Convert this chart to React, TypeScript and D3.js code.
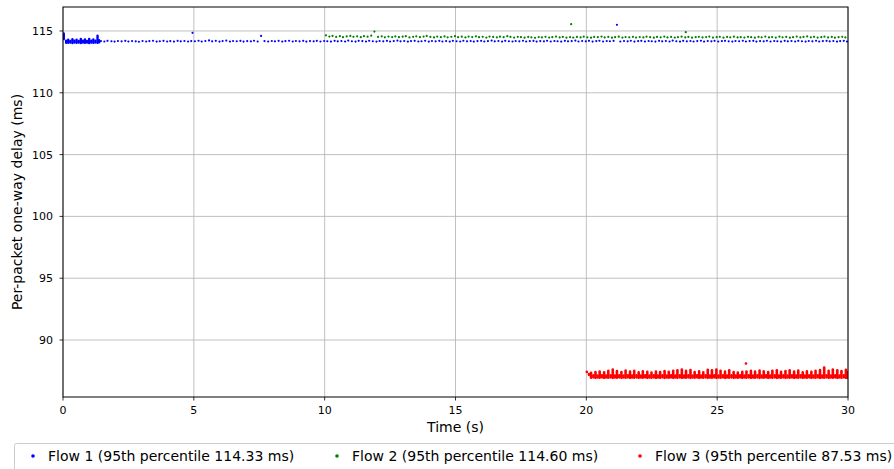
import React from "react";
import * as d3 from "d3";

const W = 894;
const H = 469;

const xTicks = [0, 5, 10, 15, 20, 25, 30];
const yTicks = [90, 95, 100, 105, 110, 115];
const seriesNames = [
  "Flow 1 (95th percentile 114.33 ms)",
  "Flow 2 (95th percentile 114.60 ms)",
  "Flow 3 (95th percentile 87.53 ms)",
];
const seriesColors = ["#0000ff", "#008000", "#ff0000"];

// Flow 1: dense burst at start (columns of packets)
const flow1BurstT = [0.03, 0.12, 0.2, 0.28, 0.36, 0.44, 0.52, 0.6, 0.68, 0.76, 0.84, 0.92, 1.0, 1.08, 1.16, 1.24, 1.32, 1.38];
const flow1BurstLo = [114.35, 114.05, 114.04, 114.06, 114.03, 114.06, 114.04, 114.06, 114.03, 114.06, 114.04, 114.06, 114.03, 114.06, 114.04, 114.06, 114.04, 114.08];
const flow1BurstHi = [114.8, 114.22, 114.3, 114.2, 114.34, 114.22, 114.3, 114.2, 114.36, 114.22, 114.32, 114.2, 114.36, 114.22, 114.32, 114.22, 114.62, 114.25];

const flow1T = [
  1.45, 1.58, 1.7, 1.85, 1.97, 2.1, 2.24, 2.38, 2.5, 2.64,
  2.78, 2.9, 3.04, 3.18, 3.3, 3.44, 3.58, 3.7, 3.84, 3.98,
  4.1, 4.24, 4.38, 4.5, 4.64, 4.78, 4.9, 4.95, 5.04, 5.18,
  5.3, 5.44, 5.58, 5.7, 5.84, 5.98, 6.1, 6.24, 6.38, 6.5,
  6.64, 6.78, 6.9, 7.04, 7.18, 7.3, 7.44, 7.57, 7.7, 7.84,
  7.98, 8.1, 8.24, 8.38, 8.5, 8.64, 8.78, 8.9, 9.04, 9.18,
  9.3, 9.44, 9.58, 9.7, 9.84, 9.98, 10.1, 10.24, 10.38, 10.5,
  10.64, 10.78, 10.9, 11.04, 11.18, 11.3, 11.44, 11.58, 11.7, 11.84,
  11.98, 12.1, 12.24, 12.38, 12.5, 12.64, 12.78, 12.9, 13.04, 13.18,
  13.3, 13.44, 13.58, 13.7, 13.84, 13.98, 14.1, 14.24, 14.38, 14.5,
  14.64, 14.78, 14.9, 15.04, 15.18, 15.3, 15.44, 15.58, 15.7, 15.84,
  15.98, 16.1, 16.24, 16.38, 16.5, 16.64, 16.78, 16.9, 17.04, 17.18,
  17.3, 17.44, 17.58, 17.7, 17.84, 17.98, 18.1, 18.24, 18.38, 18.5,
  18.64, 18.78, 18.9, 19.04, 19.18, 19.3, 19.44, 19.58, 19.7, 19.84,
  19.98, 20.1, 20.24, 20.38, 20.5, 20.64, 20.78, 20.9, 21.04, 21.17,
  21.3, 21.44, 21.58, 21.7, 21.84, 21.98, 22.1, 22.24, 22.38, 22.5,
  22.64, 22.78, 22.9, 23.04, 23.18, 23.3, 23.44, 23.58, 23.7, 23.84,
  23.98, 24.1, 24.24, 24.38, 24.5, 24.64, 24.78, 24.9, 25.04, 25.18,
  25.3, 25.44, 25.58, 25.7, 25.84, 25.98, 26.1, 26.24, 26.38, 26.5,
  26.64, 26.78, 26.9, 27.04, 27.18, 27.3, 27.44, 27.58, 27.7, 27.84,
  27.98, 28.1, 28.24, 28.38, 28.5, 28.64, 28.78, 28.9, 29.04, 29.18,
  29.3, 29.44, 29.58, 29.7, 29.84, 29.96,
];
const flow1V = [
  114.18, 114.15, 114.2, 114.17, 114.14, 114.19, 114.16, 114.2, 114.15, 114.18,
  114.16, 114.13, 114.19, 114.15, 114.18, 114.21, 114.14, 114.17, 114.2, 114.15,
  114.18, 114.14, 114.2, 114.16, 114.19, 114.15, 114.18, 114.85, 114.17, 114.21,
  114.15, 114.19, 114.24, 114.16, 114.2, 114.14, 114.18, 114.22, 114.15, 114.19,
  114.17, 114.2, 114.14, 114.18, 114.16, 114.21, 114.15, 114.6, 114.18, 114.15,
  114.19, 114.16, 114.2, 114.14, 114.18, 114.21, 114.15, 114.19, 114.16, 114.2,
  114.14, 114.18, 114.16, 114.2, 114.15, 114.19, 114.17, 114.14, 114.2, 114.16,
  114.19, 114.15, 114.22, 114.17, 114.14, 114.2, 114.18, 114.15, 114.21, 114.17,
  114.14, 114.19, 114.16, 114.2, 114.15, 114.18, 114.22, 114.16, 114.19, 114.14,
  114.18, 114.2, 114.15, 114.17, 114.21, 114.14, 114.19, 114.16, 114.2, 114.15,
  114.18, 114.14, 114.2, 114.17, 114.15, 114.21, 114.16, 114.19, 114.14, 114.18,
  114.2, 114.15, 114.18, 114.22, 114.16, 114.19, 114.14, 114.2, 114.17, 114.15,
  114.19, 114.16, 114.21, 114.15, 114.18, 114.2, 114.14, 114.18, 114.16, 114.21,
  114.15, 114.19, 114.17, 114.14, 114.2, 114.16, 114.18, 114.22, 114.15, 114.19,
  114.16, 114.2, 114.14, 114.18, 114.21, 114.15, 114.19, 114.17, 114.2, 115.5,
  114.15, 114.19, 114.16, 114.21, 114.14, 114.18, 114.2, 114.15, 114.19, 114.17,
  114.14, 114.2, 114.16, 114.19, 114.15, 114.22, 114.17, 114.14, 114.2, 114.16,
  114.19, 114.15, 114.18, 114.21, 114.14, 114.19, 114.16, 114.2, 114.15, 114.18,
  114.2, 114.16, 114.14, 114.19, 114.17, 114.21, 114.15, 114.18, 114.2, 114.14,
  114.18, 114.16, 114.21, 114.15, 114.19, 114.17, 114.14, 114.2, 114.16, 114.19,
  114.15, 114.2, 114.17, 114.14, 114.19, 114.16, 114.21, 114.15, 114.18, 114.2,
  114.16, 114.19, 114.14, 114.18, 114.2, 114.15,
];

const flow2T = [
  10.05, 10.18, 10.3, 10.44, 10.58, 10.7, 10.84, 10.98, 11.1, 11.24,
  11.38, 11.5, 11.64, 11.78, 11.9, 12.04, 12.18, 12.3, 12.44, 12.58,
  12.7, 12.84, 12.98, 13.1, 13.24, 13.38, 13.5, 13.64, 13.78, 13.9,
  14.04, 14.18, 14.3, 14.44, 14.58, 14.7, 14.84, 14.98, 15.1, 15.24,
  15.38, 15.5, 15.64, 15.78, 15.9, 16.04, 16.18, 16.3, 16.44, 16.58,
  16.7, 16.84, 16.98, 17.1, 17.24, 17.38, 17.5, 17.64, 17.78, 17.9,
  18.04, 18.18, 18.3, 18.44, 18.58, 18.7, 18.84, 18.98, 19.1, 19.24,
  19.38, 19.42, 19.5, 19.64, 19.78, 19.9, 20.04, 20.18, 20.3, 20.44,
  20.58, 20.7, 20.84, 20.98, 21.1, 21.24, 21.38, 21.5, 21.64, 21.78,
  21.9, 22.04, 22.18, 22.3, 22.44, 22.58, 22.7, 22.84, 22.98, 23.1,
  23.24, 23.38, 23.5, 23.64, 23.78, 23.8, 23.9, 24.04, 24.18, 24.3,
  24.44, 24.58, 24.7, 24.84, 24.98, 25.1, 25.24, 25.38, 25.5, 25.64,
  25.78, 25.9, 26.04, 26.18, 26.3, 26.44, 26.58, 26.7, 26.84, 26.98,
  27.1, 27.24, 27.38, 27.5, 27.64, 27.78, 27.9, 28.04, 28.18, 28.3,
  28.44, 28.58, 28.7, 28.84, 28.98, 29.1, 29.24, 29.38, 29.5, 29.64,
  29.78, 29.9,
];
const flow2V = [
  114.65, 114.55, 114.6, 114.52, 114.58, 114.5, 114.56, 114.6, 114.53, 114.57,
  114.5, 114.58, 114.54, 114.62, 114.95, 114.52, 114.57, 114.49, 114.55, 114.51,
  114.56, 114.5, 114.54, 114.58, 114.48, 114.53, 114.57, 114.5, 114.55, 114.6,
  114.52, 114.48, 114.55, 114.5, 114.56, 114.49, 114.53, 114.58, 114.5, 114.54,
  114.48, 114.55, 114.51, 114.57, 114.5, 114.53, 114.47, 114.55, 114.52, 114.49,
  114.54, 114.5, 114.58, 114.52, 114.47, 114.53, 114.5, 114.46, 114.52, 114.49,
  114.45, 114.51, 114.48, 114.53, 114.47, 114.5, 114.55, 114.48, 114.52, 114.46,
  114.5, 115.55, 114.47, 114.52, 114.48, 114.54, 114.49, 114.46, 114.52, 114.5,
  114.55, 114.48, 114.52, 114.46, 114.5, 114.54, 114.47, 114.51, 114.49, 114.53,
  114.47, 114.51, 114.48, 114.54, 114.5, 114.46, 114.52, 114.49, 114.55, 114.48,
  114.52, 114.47, 114.5, 114.54, 114.48, 114.9, 114.52, 114.46, 114.5, 114.53,
  114.48, 114.51, 114.55, 114.47, 114.5, 114.53, 114.46, 114.52, 114.49, 114.54,
  114.48, 114.5, 114.47, 114.53, 114.5, 114.46, 114.52, 114.49, 114.55, 114.48,
  114.51, 114.47, 114.54, 114.49, 114.52, 114.46, 114.5, 114.55, 114.48, 114.52,
  114.56, 114.49, 114.53, 114.47, 114.5, 114.54, 114.48, 114.52, 114.46, 114.5,
  114.53, 114.48,
];

// Flow 3: columns of packets (low / high delay at each instant)
const flow3T = [
  20.02, 20.1, 20.18, 20.27, 20.35, 20.43, 20.51, 20.6, 20.68, 20.76,
  20.84, 20.93, 21.01, 21.09, 21.17, 21.26, 21.34, 21.42, 21.5, 21.59,
  21.67, 21.75, 21.83, 21.92, 22.0, 22.08, 22.16, 22.25, 22.33, 22.41,
  22.49, 22.58, 22.66, 22.74, 22.82, 22.91, 22.99, 23.07, 23.15, 23.24,
  23.32, 23.4, 23.48, 23.57, 23.65, 23.73, 23.81, 23.9, 23.98, 24.06,
  24.14, 24.23, 24.31, 24.39, 24.47, 24.56, 24.64, 24.72, 24.8, 24.89,
  24.97, 25.05, 25.13, 25.22, 25.3, 25.38, 25.46, 25.55, 25.63, 25.71,
  25.79, 25.88, 25.96, 26.04, 26.1, 26.12, 26.21, 26.29, 26.37, 26.45,
  26.54, 26.62, 26.7, 26.78, 26.87, 26.95, 27.03, 27.11, 27.2, 27.28,
  27.36, 27.44, 27.53, 27.61, 27.69, 27.77, 27.86, 27.94, 28.02, 28.1,
  28.19, 28.27, 28.35, 28.43, 28.52, 28.6, 28.68, 28.76, 28.85, 28.93,
  29.01, 29.09, 29.18, 29.26, 29.34, 29.42, 29.51, 29.59, 29.67, 29.75,
  29.84, 29.92, 29.98,
];
const flow3Lo = [
  87.42, 87.18, 86.95, 86.98, 86.94, 86.97, 86.95, 86.98, 86.94, 86.97,
  86.95, 86.98, 86.94, 86.97, 86.95, 86.98, 86.94, 86.97, 86.95, 86.98,
  86.94, 86.97, 86.95, 86.98, 86.94, 86.97, 86.95, 86.98, 86.94, 86.97,
  86.95, 86.98, 86.94, 86.97, 86.95, 86.98, 86.94, 86.97, 86.95, 86.98,
  86.94, 86.97, 86.95, 86.98, 86.94, 86.97, 86.95, 86.98, 86.94, 86.97,
  86.95, 86.98, 86.94, 86.97, 86.95, 86.98, 86.94, 86.97, 86.95, 86.98,
  86.94, 86.97, 86.95, 86.98, 86.94, 86.97, 86.95, 86.98, 86.94, 86.97,
  86.95, 86.98, 86.94, 86.97, 88.1, 86.95, 86.98, 86.94, 86.97, 86.95,
  86.98, 86.94, 86.97, 86.95, 86.98, 86.94, 86.97, 86.95, 86.98, 86.94,
  86.97, 86.95, 86.98, 86.94, 86.97, 86.95, 86.98, 86.94, 86.97, 86.95,
  86.98, 86.94, 86.97, 86.95, 86.98, 86.94, 86.97, 86.95, 86.98, 86.94,
  86.97, 86.95, 86.98, 86.94, 86.97, 86.95, 86.98, 86.94, 86.97, 86.95,
  86.98, 86.94, 86.95,
];
const flow3Hi = [
  87.42, 87.25, 87.35, 87.14, 87.4, 87.12, 87.45, 87.14, 87.38, 87.12,
  87.5, 87.14, 87.62, 87.12, 87.48, 87.14, 87.4, 87.12, 87.52, 87.14,
  87.44, 87.12, 87.5, 87.14, 87.38, 87.12, 87.46, 87.14, 87.42, 87.12,
  87.36, 87.14, 87.44, 87.12, 87.4, 87.14, 87.48, 87.12, 87.42, 87.14,
  87.5, 87.12, 87.56, 87.14, 87.62, 87.12, 87.5, 87.14, 87.58, 87.12,
  87.4, 87.14, 87.46, 87.12, 87.38, 87.14, 87.6, 87.12, 87.55, 87.14,
  87.62, 87.12, 87.5, 87.14, 87.44, 87.12, 87.55, 87.14, 87.4, 87.12,
  87.36, 87.14, 87.42, 87.12, 88.1, 87.45, 87.14, 87.5, 87.12, 87.44,
  87.14, 87.52, 87.12, 87.46, 87.14, 87.4, 87.12, 87.5, 87.14, 87.55,
  87.12, 87.42, 87.14, 87.48, 87.12, 87.56, 87.14, 87.44, 87.12, 87.52,
  87.14, 87.38, 87.12, 87.46, 87.14, 87.42, 87.12, 87.5, 87.14, 87.58,
  87.12, 87.78, 87.14, 87.5, 87.12, 87.62, 87.14, 87.55, 87.12, 87.48,
  87.14, 87.6, 87.4,
];

const FONT = "'DejaVu Sans', sans-serif";

export default function App() {
  const left = 63, right = 848, top = 7, bottom = 397;
  const x = d3.scaleLinear().domain([0, 30]).range([left, right]);
  const y = d3.scaleLinear().domain([85.39, 116.94]).range([bottom, top]);

  const legendX = [33, 337, 640];

  return (
    <svg
      width={W}
      height={H}
      style={{ position: "absolute", left: 0, top: 0, background: "#fff" }}
      fontFamily={FONT}
    >
      <rect x={0} y={0} width={W} height={H} fill="#fff" />
      <defs>
        <clipPath id="plotClip">
          <rect x={left} y={top} width={right - left} height={bottom - top} />
        </clipPath>
      </defs>
      {/* grid */}
      <g stroke="#b0b0b0" strokeWidth={0.8}>
        {xTicks.map((t) => (
          <line key={"gx" + t} x1={x(t)} x2={x(t)} y1={top} y2={bottom} />
        ))}
        {yTicks.map((t) => (
          <line key={"gy" + t} x1={left} x2={right} y1={y(t)} y2={y(t)} />
        ))}
      </g>
      {/* data */}
      <g clipPath="url(#plotClip)">
        <g fill={seriesColors[0]}>
          {flow1T.map((t, i) => (
            <circle key={"f1" + i} cx={x(t)} cy={y(flow1V[i])} r={1.1} />
          ))}
        </g>
        <g stroke={seriesColors[0]} strokeWidth={2.4} strokeLinecap="round">
          {flow1BurstT.map((t, i) => (
            <line key={"b1" + i} x1={x(t)} x2={x(t)} y1={y(flow1BurstLo[i])} y2={y(flow1BurstHi[i])} />
          ))}
        </g>
        <g fill={seriesColors[1]}>
          {flow2T.map((t, i) => (
            <circle key={"f2" + i} cx={x(t)} cy={y(flow2V[i])} r={1.1} />
          ))}
        </g>
        <g stroke={seriesColors[2]} strokeWidth={2.6} strokeLinecap="round">
          {flow3T.map((t, i) => (
            <line key={"f3" + i} x1={x(t)} x2={x(t)} y1={y(flow3Lo[i])} y2={y(flow3Hi[i])} />
          ))}
        </g>
      </g>
      {/* frame */}
      <rect x={left} y={top} width={right - left} height={bottom - top} fill="none" stroke="#000" strokeWidth={1} />
      {/* x ticks */}
      <g>
        {xTicks.map((t) => (
          <g key={"xt" + t}>
            <line x1={x(t)} x2={x(t)} y1={bottom} y2={bottom + 3.5} stroke="#000" strokeWidth={0.8} />
            <text x={x(t)} y={bottom + 17} fontSize={11} textAnchor="middle" fill="#000">
              {t}
            </text>
          </g>
        ))}
      </g>
      {/* y ticks */}
      <g>
        {yTicks.map((t) => (
          <g key={"yt" + t}>
            <line x1={left - 3.5} x2={left} y1={y(t)} y2={y(t)} stroke="#000" strokeWidth={0.8} />
            <text x={left - 10} y={y(t)} dy="0.36em" fontSize={11} textAnchor="end" fill="#000">
              {t}
            </text>
          </g>
        ))}
      </g>
      {/* axis labels */}
      <text x={(left + right) / 2} y={432} fontSize={14} textAnchor="middle" fill="#000">
        Time (s)
      </text>
      <text
        transform={`translate(22, ${(top + bottom) / 2}) rotate(-90)`}
        fontSize={14}
        textAnchor="middle"
        fill="#000"
      >
        Per-packet one-way delay (ms)
      </text>
      {/* legend */}
      <rect x={14.5} y={443.5} width={900} height={30} rx={2} fill="#fff" fillOpacity={0.8} stroke="#cccccc" strokeWidth={1} />
      {seriesNames.map((name, i) => (
        <g key={"lg" + i}>
          <circle cx={legendX[i]} cy={456} r={1.8} fill={seriesColors[i]} />
          <text x={legendX[i] + 15} y={456} dy="0.36em" fontSize={14} fill="#000">
            {name}
          </text>
        </g>
      ))}
    </svg>
  );
}
